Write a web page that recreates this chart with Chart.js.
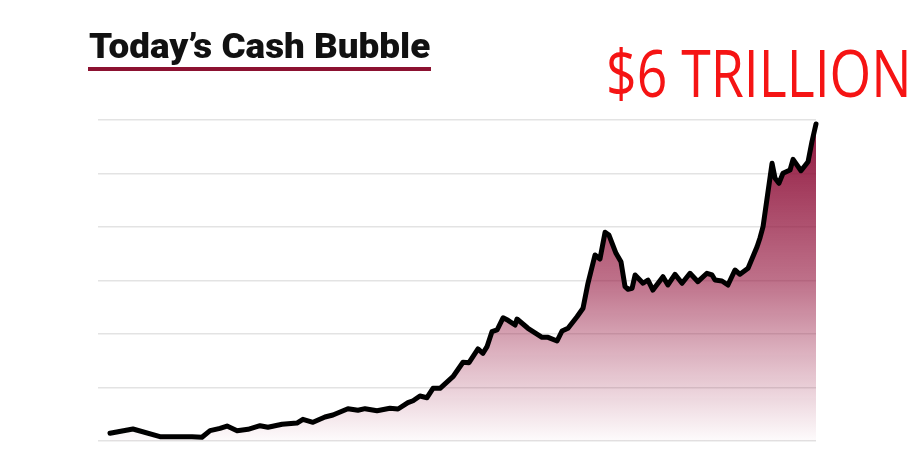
<!DOCTYPE html>
<html>
<head>
<meta charset="utf-8">
<script src="https://cdn.jsdelivr.net/npm/chart.js@4"></script>
<style>
  html, body { margin: 0; padding: 0; background: #fff; }
  #wrap { position: relative; width: 924px; height: 471px; overflow: hidden; }
  #cashChart { position: absolute; left: 0; top: 0; }
  .title {
    position: absolute; left: 89px; top: 26px;
    font-family: Roboto, sans-serif; font-weight: 900; font-size: 35px;
    color: #111; white-space: nowrap; transform-origin: 0 0; line-height: normal;
  }
  .title-rule { position: absolute; left: 88px; top: 67px; width: 343px; height: 4px; background: #8c1231; }
  .callout {
    position: absolute; left: 606px; top: 38px;
    font-family: 'Open Sans', sans-serif; font-weight: 500; font-size: 66px;
    color: #f51414; white-space: nowrap; transform-origin: 0 0; line-height: 1;
  }
</style>
</head>
<body>
<div id="wrap">
  <canvas id="cashChart" width="924" height="471"></canvas>
  <div class="title" id="title">Today’s Cash Bubble</div>
  <div class="title-rule"></div>
  <div class="callout" id="callout">$6 TRILLION</div>
</div>
<script>
'use strict';

// Cash holdings, trillions of dollars
const years = [
  1981.00, 1982.30, 1983.83, 1985.65, 1986.21, 1986.67, 1987.23, 1987.63, 1988.20, 1988.82,
  1989.50, 1989.95, 1990.75, 1991.59, 1991.93, 1992.50, 1993.18, 1993.63, 1994.48, 1995.05,
  1995.45, 1996.13, 1996.86, 1997.32, 1997.88, 1998.17, 1998.56, 1998.96, 1999.30, 1999.70,
  2000.43, 2001.00, 2001.34, 2001.85, 2002.13, 2002.36, 2002.64, 2002.93, 2003.27, 2003.55,
  2003.95, 2004.06, 2004.68, 2005.48, 2005.82, 2006.33, 2006.61, 2006.95, 2007.46, 2007.80,
  2008.08, 2008.48, 2008.76, 2009.05, 2009.27, 2009.67, 2009.95, 2010.18, 2010.35, 2010.58,
  2010.75, 2011.20, 2011.48, 2011.76, 2012.33, 2012.61, 2013.01, 2013.41, 2013.86, 2014.31,
  2014.82, 2015.11, 2015.28, 2015.67, 2016.01, 2016.41, 2016.69, 2017.15, 2017.66, 2017.83,
  2018.00, 2018.51, 2018.68, 2018.90, 2019.13, 2019.53, 2019.70, 2020.15, 2020.55, 2020.77,
  2021.00
];
const cash = [
  0.144, 0.224, 0.080, 0.080, 0.069, 0.193, 0.237, 0.280, 0.193, 0.219,
  0.286, 0.256, 0.312, 0.336, 0.406, 0.350, 0.449, 0.486, 0.604, 0.574,
  0.604, 0.566, 0.611, 0.598, 0.716, 0.753, 0.841, 0.809, 0.985, 0.985,
  1.202, 1.471, 1.464, 1.720, 1.639, 1.763, 2.043, 2.075, 2.303, 2.256,
  2.168, 2.280, 2.107, 1.938, 1.938, 1.869, 2.056, 2.107, 2.323, 2.480,
  2.948, 3.477, 3.402, 3.901, 3.850, 3.508, 3.351, 2.884, 2.836, 2.854,
  3.103, 2.948, 3.009, 2.822, 3.071, 2.916, 3.116, 2.948, 3.135, 2.978,
  3.135, 3.103, 3.009, 2.991, 2.916, 3.196, 3.116, 3.228, 3.632, 3.800,
  4.006, 5.191, 4.910, 4.817, 5.004, 5.065, 5.265, 5.052, 5.221, 5.594,
  5.925
];
const yTicks = [0, 1, 2, 3, 4, 5, 6];

const points = years.map((yr, i) => ({ x: yr, y: cash[i] }));

function areaGradient(context) {
  const area = context.chart.chartArea;
  if (!area) return 'rgba(145,18,60,0.5)';
  const g = context.chart.ctx.createLinearGradient(0, area.top, 0, area.bottom);
  g.addColorStop(0, 'rgba(140,16,56,0.98)');
  g.addColorStop(0.5, 'rgba(150,25,65,0.62)');
  g.addColorStop(1, 'rgba(160,40,80,0.02)');
  return g;
}

new Chart(document.getElementById('cashChart').getContext('2d'), {
  type: 'line',
  data: {
    datasets: [{
      data: points,
      borderColor: '#000',
      borderWidth: 5,
      borderJoinStyle: 'round',
      borderCapStyle: 'round',
      backgroundColor: areaGradient,
      fill: 'origin',
      tension: 0,
      pointRadius: 0,
      clip: false
    }]
  },
  options: {
    responsive: false,
    animation: false,
    layout: { padding: { left: 98, right: 108, top: 120, bottom: 30 } },
    plugins: { legend: { display: false }, tooltip: { enabled: false } },
    scales: {
      x: { type: 'linear', min: 1980.32, max: 2021, display: false },
      y: {
        min: 0, max: 6,
        afterBuildTicks: axis => { axis.ticks = yTicks.map(v => ({ value: v })); },
        ticks: { display: false },
        border: { display: false },
        grid: { color: '#e3e3e3', lineWidth: 1.5, drawTicks: false }
      }
    }
  }
});

// stretch the texts to the widths they have in the picture
function fitWidth(id, w) {
  const el = document.getElementById(id);
  el.style.transform = 'scaleX(' + (w / el.offsetWidth) + ')';
}
fitWidth('title', 341);
fitWidth('callout', 306);
</script>
</body>
</html>
